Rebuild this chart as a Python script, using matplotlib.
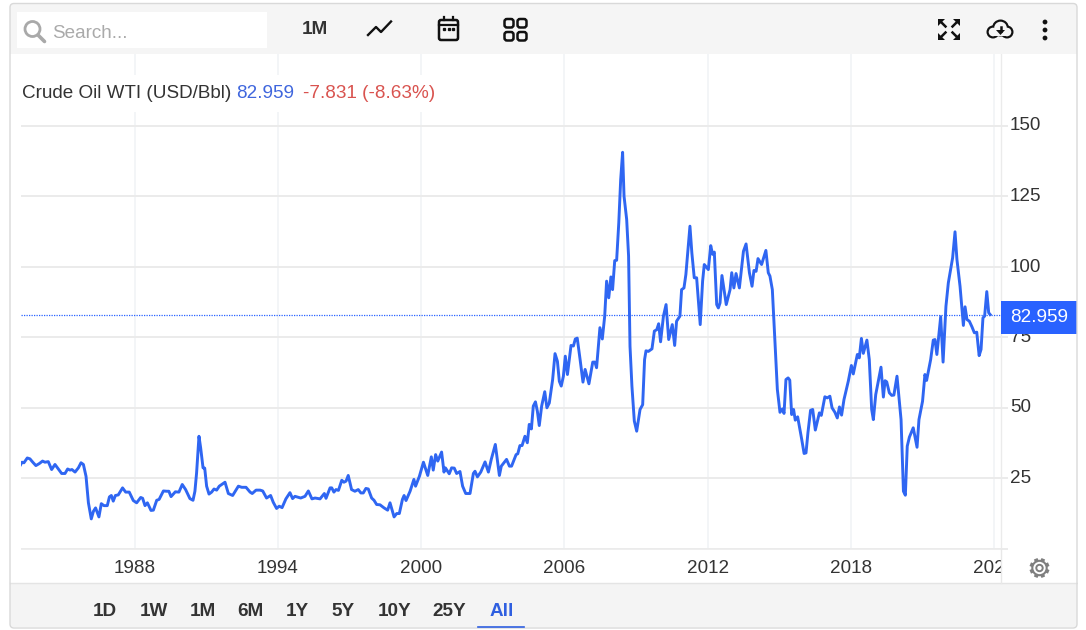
import matplotlib
matplotlib.use("Agg")
import numpy as np
import matplotlib.pyplot as plt
from matplotlib.patches import Rectangle, FancyBboxPatch, Circle, Polygon
from matplotlib.transforms import ScaledTranslation

plt.rcParams['font.family'] = ['Liberation Sans', 'DejaVu Sans']

# ---------- data (decimal year, USD/Bbl) ----------
years_a = [1983.21,1983.29,1983.37,1983.51,1983.62,1983.74,1983.87,1984.01,1984.15,1984.25,1984.39,1984.53,1984.67,1984.81,1984.95,1985.09,1985.20,1985.30,1985.38,1985.51,1985.65,1985.76,1985.86,1985.97,1986.07,1986.19,1986.28,1986.37,1986.51,1986.61,1986.72,1986.86,1986.95,1987.03,1987.11,1987.20,1987.32,1987.50,1987.63,1987.78,1987.95,1988.09,1988.26,1988.34,1988.44,1988.54,1988.69,1988.79,1988.93,1989.03,1989.21,1989.35,1989.44,1989.53,1989.71,1989.86,1990.00,1990.14,1990.32,1990.45,1990.53,1990.60,1990.70,1990.77,1990.87,1990.94,1991.02,1991.12,1991.23,1991.33,1991.44,1991.55,1991.79,1991.93,1992.11,1992.35,1992.49,1992.67,1992.84,1992.93,1993.09]
price_a = [29.4,30.6,30.4,32.1,31.8,30.6,29.4,30.1,31.0,30.6,30.8,28.0,29.8,28.2,26.6,26.6,28.2,27.8,28.0,27.1,28.6,30.4,29.8,25.6,16.2,10.5,13.2,14.4,11.2,15.9,15.2,15.2,18.3,18.8,16.8,18.8,19.0,21.5,20.0,20.0,17.0,16.2,18.1,17.8,15.2,16.2,13.5,13.6,17.1,17.4,20.4,20.3,20.3,18.4,20.1,20.0,22.7,20.9,17.7,17.1,20.3,26.8,39.8,35.7,28.6,28.5,22.1,19.3,20.0,21.1,20.7,22.1,23.5,19.5,18.8,22.1,21.7,21.7,20.0,19.5,20.7]

years_b = [1993.26,1993.37,1993.53,1993.70,1993.81,1993.95,1994.06,1994.18,1994.34,1994.51,1994.62,1994.72,1994.96,1995.14,1995.28,1995.43,1995.56,1995.77,1995.95,1996.02,1996.19,1996.26,1996.35,1996.44,1996.54,1996.68,1996.77,1996.86,1996.95,1997.09,1997.23,1997.37,1997.48,1997.58,1997.69,1997.79,1997.93,1998.03,1998.14,1998.28,1998.45,1998.60,1998.70,1998.87,1998.98,1999.09,1999.22,1999.29,1999.37,1999.54,1999.70,1999.77,1999.93,2000.10,2000.28,2000.43,2000.51,2000.61,2000.70,2000.86,2000.96,2001.02,2001.18,2001.28,2001.39,2001.49,2001.63,2001.74,2001.87,2002.05,2002.19,2002.26,2002.36,2002.50,2002.68,2002.82,2002.94,2003.11,2003.28,2003.36,2003.58,2003.70,2003.79,2003.98,2004.05,2004.14]
price_b = [20.7,20.4,17.9,18.8,16.4,14.2,15.0,14.5,17.6,19.8,17.7,18.5,17.9,18.5,20.4,17.6,17.9,17.6,19.5,17.8,21.5,21.5,20.0,20.9,20.6,24.2,23.5,23.9,25.9,20.9,20.3,20.9,19.7,19.7,21.3,21.1,17.9,17.1,15.6,15.5,14.4,13.6,16.2,11.2,12.4,12.4,17.4,18.8,17.0,20.3,24.5,22.1,25.6,30.6,25.9,32.5,27.8,33.3,31.0,34.2,27.1,28.6,26.5,28.6,28.5,26.6,27.3,22.1,19.5,19.5,26.6,27.4,25.4,27.1,30.7,27.1,31.6,36.9,25.9,29.2,31.6,29.2,29.2,33.3,33.6,36.5]

years_c = [2004.23,2004.35,2004.45,2004.53,2004.62,2004.70,2004.79,2004.87,2004.95,2005.05,2005.18,2005.27,2005.37,2005.51,2005.61,2005.71,2005.79,2005.87,2005.96,2006.04,2006.13,2006.28,2006.38,2006.46,2006.54,2006.66,2006.78,2006.87,2007.03,2007.19,2007.28,2007.35,2007.49,2007.59,2007.69,2007.77,2007.86,2007.95,2008.02,2008.11,2008.19,2008.28,2008.36,2008.44,2008.50,2008.61,2008.69,2008.75,2008.83,2008.93,2009.03,2009.17,2009.28,2009.36,2009.42,2009.52,2009.67,2009.77,2009.87,2009.95,2010.03,2010.15,2010.26,2010.37,2010.52,2010.62,2010.70,2010.84]
price_c = [36.5,39.8,37.5,44.0,42.4,50.5,52.0,48.7,43.6,50.5,55.6,49.9,51.6,59.9,69.1,66.4,59.3,57.6,61.1,68.2,61.7,72.0,71.8,74.3,74.6,67.0,59.0,63.5,58.4,66.1,66.1,64.1,78.3,74.3,82.4,94.8,88.9,96.3,91.8,102.1,102.2,115.5,130.9,140.5,124.9,116.7,103.7,71.7,57.6,45.2,41.6,49.3,51.0,67.0,70.1,69.9,70.8,77.1,77.6,79.7,73.3,82.4,86.5,74.1,79.4,72.0,80.6,82.4]

years_d = [2010.91,2011.01,2011.09,2011.26,2011.34,2011.44,2011.54,2011.69,2011.79,2011.86,2012.03,2012.13,2012.21,2012.28,2012.38,2012.45,2012.52,2012.60,2012.78,2012.94,2013.01,2013.10,2013.19,2013.33,2013.50,2013.61,2013.75,2013.86,2013.94,2014.03,2014.11,2014.26,2014.44,2014.54,2014.61,2014.71,2014.82,2014.92,2015.03,2015.13,2015.20,2015.28,2015.37,2015.44,2015.52,2015.60,2015.67,2015.77,2015.94,2016.04,2016.12,2016.20,2016.31,2016.40,2016.51,2016.68,2016.76,2016.91,2017.01,2017.12]
price_d = [91.8,92.4,97.2,114.3,104.8,96.0,96.0,79.4,94.8,100.7,98.9,107.4,104.3,105.1,86.5,85.3,87.1,96.8,86.5,91.8,97.8,92.4,97.5,92.4,105.4,108.0,97.8,93.0,98.6,98.3,102.8,100.7,105.7,97.8,96.6,91.8,72.9,56.4,48.3,49.5,47.9,59.9,60.5,59.7,47.5,49.3,45.5,46.7,38.7,33.7,33.9,41.0,49.0,49.3,42.0,48.1,47.2,53.8,53.4,54.0]

years_e = [2017.21,2017.33,2017.43,2017.52,2017.61,2017.71,2017.89,2018.02,2018.10,2018.27,2018.35,2018.44,2018.52,2018.67,2018.77,2018.87,2018.94,2019.04,2019.26,2019.36,2019.43,2019.50,2019.61,2019.71,2019.80,2019.93,2020.10,2020.20,2020.28,2020.36,2020.45,2020.61,2020.77,2020.85,2021.00,2021.10,2021.17,2021.34,2021.45,2021.52,2021.60,2021.76,2021.86,2021.98,2022.08,2022.26,2022.36,2022.44,2022.57,2022.71,2022.78,2022.86,2022.96,2023.07,2023.17,2023.27,2023.37,2023.45,2023.53,2023.60,2023.69,2023.77,2023.83]
price_e = [49.9,48.3,46.3,50.2,47.3,52.8,59.3,64.9,61.9,68.8,67.6,74.5,69.2,73.9,67.0,49.3,45.7,54.6,64.3,53.7,59.5,59.1,55.2,54.3,54.4,61.1,45.7,20.3,18.9,36.3,39.5,42.8,35.9,45.7,52.2,61.7,59.6,67.0,73.9,74.1,68.8,82.2,66.1,85.9,94.2,103.1,112.3,102.5,93.0,79.1,85.7,81.2,80.6,78.6,76.5,76.7,68.4,70.6,81.8,82.4,91.1,83.6,82.959]

x_ticks = [1988, 1994, 2000, 2006, 2012, 2018, 2024]
x_labels = ['1988', '1994', '2000', '2006', '2012', '2018', '2024']
y_ticks = [0, 25, 50, 75, 100, 125, 150]
y_labels = ['', '25', '50', '75', '100', '125', '150']
last_price = 82.959
range_buttons = ['1D', '1W', '1M', '6M', '1Y', '5Y', '10Y', '25Y', 'All']
button_centres = [104.5, 153.5, 202.5, 250.5, 297.5, 343.5, 394.5, 449.5, 501.5]

years = years_a + years_b + years_c + years_d + years_e
prices = price_a + price_b + price_c + price_d + price_e

# ---------- layout ----------
W, H = 1086, 630
BLUE = '#2962ff'
LINE = '#2f66f2'
GRID = '#ebebeb'
VGRID = '#f3f5f7'
TXT = '#333333'
FS = 13.6

fig = plt.figure(figsize=(W / 100, H / 100), dpi=100, facecolor='white')
L, R, T, B = 21, 1000.5, 53.5, 548.5
ax = fig.add_axes([L / W, 1 - B / H, (R - L) / W, (B - T) / H], facecolor='white')
ax.set_xlim(1988 + (L - 134.5) / 23.88, 1988 + (R - 134.5) / 23.88)
ax.set_ylim(0, (B - T) / 2.82)

ax.set_xticks(x_ticks, x_labels, fontsize=FS, color=TXT)
ax.yaxis.tick_right()
ax.set_yticks(y_ticks, y_labels, fontsize=FS, color=TXT)
ax.tick_params(axis='x', length=0, pad=8)
ax.tick_params(axis='y', length=5, width=1.4, color=GRID, pad=1.7)
ax.grid(axis='y', color=GRID, lw=1.4)
ax.grid(axis='x', color=VGRID, lw=1.4)
ax.set_axisbelow(True)
for s in ['top', 'left']:
    ax.spines[s].set_visible(False)
ax.spines['bottom'].set_color(GRID)
ax.spines['bottom'].set_linewidth(1.2)
ax.spines['right'].set_color(GRID)
ax.spines['right'].set_linewidth(1.0)
shift = ScaledTranslation(0, 1.5 / 100, fig.dpi_scale_trans)
for lab in ax.get_yticklabels():
    lab.set_transform(lab.get_transform() + shift)

ax.axhline(last_price, color=BLUE, lw=0.9, ls=(0, (1, 1)), zorder=2)
ax.plot(years, prices, color=LINE, lw=2.1, solid_joinstyle='round', zorder=3)

# ---------- page furniture, drawn in pixel coordinates ----------
ov = fig.add_axes([0, 0, 1, 1], facecolor='none')
ov.set_xlim(0, W)
ov.set_ylim(H, 0)
ov.axis('off')

def rect(x0, y0, x1, y1, c, z=1):
    ov.add_patch(Rectangle((x0, y0), x1 - x0, y1 - y0, fc=c, ec='none', zorder=z))

# clean margins, bars
rect(1001.5, 549.5, 1086, 583, 'white')
rect(0, 0, 10, H, 'white')
rect(10, 54, 20.5, 583, 'white')
rect(20, 75, 440, 112, 'white')
rect(10, 4, 1077, 54, '#f5f5f5')
rect(10, 583, 1077, 627, '#f4f4f4')
ov.plot([10, 1077], [583, 583], color='#e4e4e4', lw=1, zorder=2)
ov.plot([1000.7, 1000.7], [549, 583], color='#e8e8e8', lw=1, zorder=2)
ov.add_patch(FancyBboxPatch((10, 3.5), 1067, 624.5, boxstyle='round,pad=0,rounding_size=4',
                            fc='none', ec='#d9d9d9', lw=1, zorder=6))
rect(1077.5, 0, 1086, H, 'white', 5)
rect(0, 628.5, W, H, 'white', 5)
rect(0, 0, W, 3, 'white', 5)

# header text
ov.text(22, 93.5, 'Crude Oil WTI (USD/Bbl)', fontsize=FS, color='#333333', va='center', zorder=4)
ov.text(236, 93.5, '82.959', fontsize=FS, color='#3f66dd', va='center', zorder=4)
ov.text(303, 93.5, '-7.831 (-8.63%)', fontsize=FS, color='#d9534f', va='center', zorder=4)

# price tag
rect(1001, 301, 1077, 334, BLUE, 4)
ov.text(1039, 318, '82.959', fontsize=FS, color='white', ha='center', va='center', zorder=5)

# search box
rect(17, 12, 267, 48, 'white', 3)
ov.add_patch(Circle((32.5, 29), 7.5, fc='none', ec='#a9a9a9', lw=2, zorder=4))
ov.plot([38, 44.5], [35, 41.5], color='#a9a9a9', lw=2.6, solid_capstyle='round', zorder=4)
ov.text(52, 33.5, 'Search...', fontsize=FS, color='#aaaaaa', va='center', zorder=4)

# toolbar
ov.text(314.5, 29.5, '1M', fontsize=FS, fontweight='bold', color=TXT, ha='center', va='center', zorder=4)
ov.plot([368, 376, 381, 391], [35, 27, 32, 21.5], color='#111111', lw=1.7, zorder=4)

ov.add_patch(FancyBboxPatch((439, 20), 19, 20, boxstyle='round,pad=0,rounding_size=2',
                            fc='none', ec='#111111', lw=1.8, zorder=4))
ov.plot([439, 458], [25, 25], color='#111111', lw=1.6, zorder=4)
ov.plot([444, 444], [16.5, 20], color='#111111', lw=1.6, zorder=4)
ov.plot([453, 453], [16.5, 20], color='#111111', lw=1.6, zorder=4)
ov.plot([444, 448.5, 453], [29, 29, 29], ls='none', marker='s', ms=1.4, color='#111111', zorder=4)

for x0 in (504.5, 517.5):
    for y0 in (19, 32):
        ov.add_patch(FancyBboxPatch((x0, y0), 9, 8.5, boxstyle='round,pad=0,rounding_size=2.5',
                                    fc='none', ec='#111111', lw=1.8, zorder=4))

# expand icon
for cx, cy, sx, sy in [(938, 19, 1, 1), (960, 19, -1, 1), (938, 40, 1, -1), (960, 40, -1, -1)]:
    ov.add_patch(Polygon([(cx, cy), (cx + 7 * sx, cy), (cx, cy + 7 * sy)], fc='#111111', ec='none', zorder=4))
    ov.plot([cx + 2 * sx, cx + 7.5 * sx], [cy + 2 * sy, cy + 7.5 * sy], color='#111111', lw=1.8, zorder=4)

# cloud download
for c, r, f, z in [((993, 32), 6.5, '#111111', 4), ((1000.5, 28), 8.5, '#111111', 4), ((1007, 32), 6.5, '#111111', 4),
                   ((993, 32), 4.3, '#f5f5f5', 5), ((1000.5, 28), 6.3, '#f5f5f5', 5), ((1007, 32), 4.3, '#f5f5f5', 5)]:
    ov.add_patch(Circle(c, r, fc=f, ec='none', zorder=z))
rect(993, 30, 1007, 36.3, '#f5f5f5', 5)
ov.plot([1000.5, 1000.5], [27, 31], color='#111111', lw=1.8, zorder=6)
ov.add_patch(Polygon([(996, 30), (1005, 30), (1000.5, 35)], fc='#111111', ec='none', zorder=6))

# menu dots
for y in (22, 30, 38):
    ov.add_patch(Circle((1045, y), 2.4, fc='#111111', ec='none', zorder=4))

# gear
gx, gy = 1039.5, 568
for a in np.arange(0, 360, 45) + 22.5:
    ca, sa = np.cos(np.radians(a)), np.sin(np.radians(a))
    ov.plot([gx + 6 * ca, gx + 10 * ca], [gy + 6 * sa, gy + 10 * sa], color='#7f7f7f', lw=2.8,
            solid_capstyle='butt', zorder=4)
ov.add_patch(Circle((gx, gy), 7.2, fc='white', ec='#7f7f7f', lw=1.5, zorder=5))
ov.add_patch(Circle((gx, gy), 3.2, fc='white', ec='#7f7f7f', lw=1.4, zorder=5))

# range buttons
for name, cx in zip(range_buttons, button_centres):
    active = name == 'All'
    ov.text(cx, 611, name, fontsize=FS, fontweight='bold', ha='center', va='center',
            color='#2f5fe0' if active else TXT, zorder=4)
ov.plot([478, 524], [626.5, 626.5], color='#2f5fe0', lw=1.2, zorder=7)

fig.savefig('out.png', dpi=100)
